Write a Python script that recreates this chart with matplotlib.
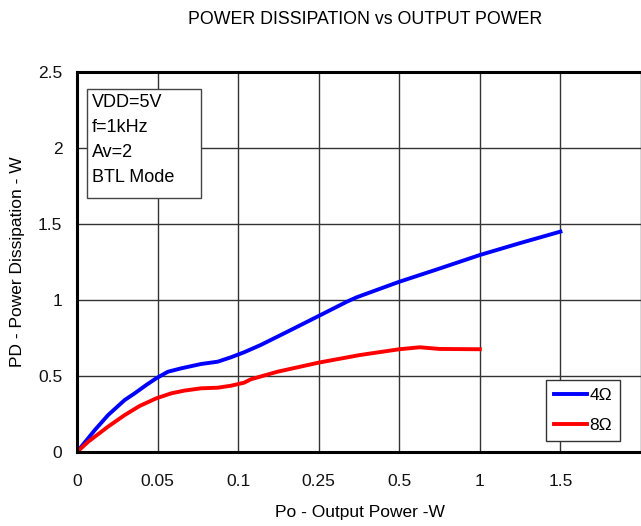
import numpy as np
import matplotlib
matplotlib.use("Agg")
import matplotlib.pyplot as plt

plt.rcParams['font.family'] = ['Liberation Sans', 'DejaVu Sans']

# X ticks (non-uniform axis: equally spaced labels)
x_ticks = [0, 0.05, 0.1, 0.25, 0.5, 1.0, 1.5, 2.0]
x_tick_labels = ['0', '0.05', '0.1', '0.25', '0.5', '1', '1.5']
y_ticks = [0, 0.5, 1, 1.5, 2, 2.5]
y_tick_labels = ['0', '0.5', '1', '1.5', '2', '2.5']

# 4 ohm series (Po in W, PD in W)
po_4 = [0, 0.0111, 0.0193, 0.0296, 0.0358, 0.043, 0.0492, 0.0564, 0.0645, 0.077,
        0.0873, 0.0955, 0.111, 0.142, 0.1915, 0.25, 0.3375, 0.368, 0.43, 0.5,
        0.73, 1.0, 1.245, 1.5]
pd_4 = [0, 0.145, 0.243, 0.342, 0.386, 0.441, 0.485, 0.528, 0.55, 0.579,
        0.594, 0.623, 0.656, 0.704, 0.791, 0.895, 0.989, 1.018, 1.066, 1.12,
        1.20, 1.296, 1.373, 1.45]

# 8 ohm series
po_8 = [0, 0.007, 0.0193, 0.0296, 0.0389, 0.0492, 0.0585, 0.0667, 0.077, 0.0873,
        0.0955, 0.111, 0.1235, 0.173, 0.25, 0.378, 0.5, 0.6275, 0.75, 1.0]
pd_8 = [0, 0.068, 0.167, 0.243, 0.303, 0.353, 0.386, 0.404, 0.419, 0.423,
        0.436, 0.456, 0.478, 0.528, 0.588, 0.638, 0.676, 0.689, 0.678, 0.676]

series_labels = ['4Ω', '8Ω']
info_lines = ['VDD=5V', 'f=1kHz', 'Av=2', 'BTL Mode']

pos = np.arange(len(x_ticks), dtype=float)

def fwd(x):
    return np.interp(x, x_ticks, pos)

def inv(p):
    return np.interp(p, pos, x_ticks)

fig = plt.figure(figsize=(6.41, 5.26), dpi=100)
W, H = 641, 526
left, right, top, bottom = 77, 641, 72, 452
ax = fig.add_axes([left / W, 1 - bottom / H, (right - left) / W, (bottom - top) / H])
ax.set_xscale('function', functions=(fwd, inv))
ax.set_xlim(0, inv(564 / 81.0))
ax.set_ylim(0, 2.5)

ax.set_xticks(x_ticks)
ax.set_xticklabels(x_tick_labels + [''])
ax.set_yticks(y_ticks)
ax.set_yticklabels(y_tick_labels)
ax.tick_params(length=0, labelsize=12.5, colors='#111111')
ax.tick_params(axis='y', pad=10.5)
ax.tick_params(axis='x', pad=16)
ax.grid(True, color='#333333', linewidth=1.0)
ax.set_axisbelow(True)
for s in ['left', 'bottom', 'top']:
    ax.spines[s].set_linewidth(2.2)
    ax.spines[s].set_color('black')
ax.spines['right'].set_visible(False)

ax.plot(po_4, pd_4, color='#0000ff', linewidth=2.8, label=series_labels[0])
ax.plot(po_8, pd_8, color='#ff0000', linewidth=2.8, label=series_labels[1])

leg = ax.legend(loc='lower right', bbox_to_anchor=((620 - left) / (right - left), (452 - 441) / (bottom - top)),
                fontsize=12.5, fancybox=False, framealpha=1, edgecolor='#333333',
                handlelength=1.95, handletextpad=0.12, borderpad=0.45, labelspacing=0.85,
                borderaxespad=0)
leg.get_frame().set_linewidth(1.0)

ax.text((92 - left) / (right - left), 1 - (94 - top) / (bottom - top), '\n'.join(info_lines),
        transform=ax.transAxes, fontsize=13, va='top', ha='left', linespacing=1.62, zorder=3)
# info box frame
ax.add_patch(plt.Rectangle(((87 - left) / (right - left), 1 - (198 - top) / (bottom - top)),
                           (201 - 87) / (right - left), (198 - 89) / (bottom - top),
                           transform=ax.transAxes, facecolor='white', edgecolor='#444444',
                           linewidth=1.0, zorder=2.5))

fig.text(365 / W, 1 - 19 / H, 'POWER DISSIPATION vs OUTPUT POWER', ha='center', va='center', fontsize=12.8)
fig.text(360 / W, 1 - 513 / H, 'Po - Output Power -W', ha='center', va='center', fontsize=12.5)
fig.text(18 / W, 1 - 262 / H, 'PD - Power Dissipation - W', ha='center', va='center', fontsize=12.5, rotation=90)

fig.savefig('out.png', dpi=100)
